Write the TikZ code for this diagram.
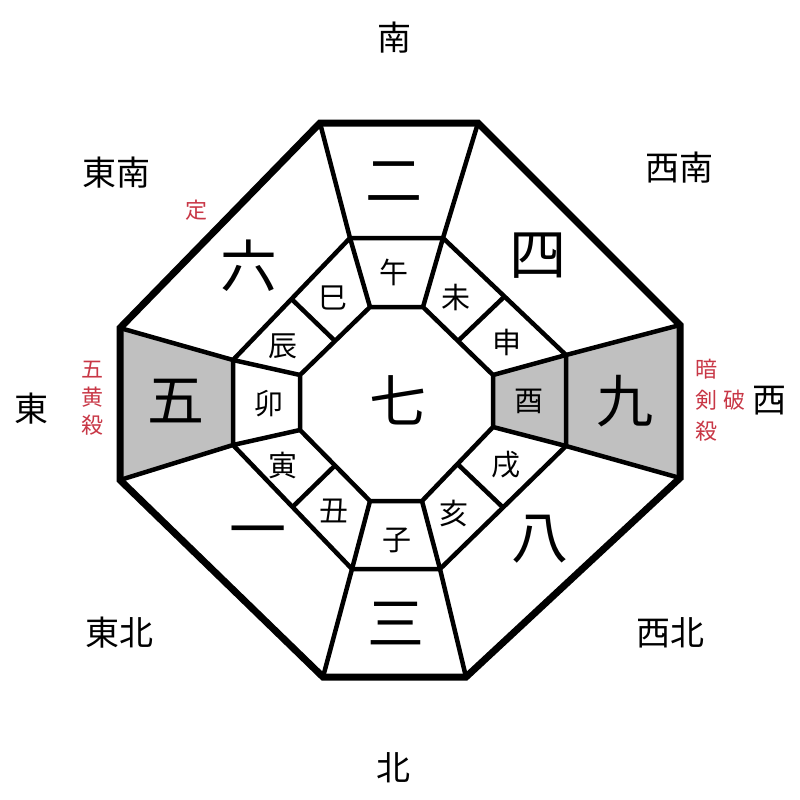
\documentclass[tikz,border=0pt]{standalone}
\usepackage{fontspec}
\newfontfamily\cjk{Noto Sans CJK JP}
\usetikzlibrary{calc}
\definecolor{grayfill}{RGB}{192,192,192}
\definecolor{redlbl}{RGB}{200,55,70}
\tikzset{
  inner/.style={line width=4.5pt, line join=miter},
  outerline/.style={line width=7pt, line join=miter},
  big/.style={font=\cjk\fontsize{57}{57}\selectfont},
  branch/.style={font=\cjk\fontsize{29}{29}\selectfont},
  dir/.style={font=\cjk\fontsize{34}{34}\selectfont},
  redtxt/.style={text=redlbl, font=\cjk\fontsize{22}{22}\selectfont, inner sep=0pt},
}
\begin{document}
\begin{tikzpicture}[x=1pt,y=-1pt]
\useasboundingbox (0,0) rectangle (800,800);
% outer octagon
\coordinate (O1) at (320,123); \coordinate (O2) at (478,123);
\coordinate (O3) at (680,325); \coordinate (O4) at (680,478);
\coordinate (O5) at (466,677); \coordinate (O6) at (323,677);
\coordinate (O7) at (120,480); \coordinate (O8) at (120,328);
% middle octagon
\coordinate (M1) at (350,238); \coordinate (M2) at (443,238);
\coordinate (M3) at (566,355); \coordinate (M4) at (566,446);
\coordinate (M5) at (440,569); \coordinate (M6) at (352,569);
\coordinate (M7) at (233,445); \coordinate (M8) at (233,360);
% inner octagon
\coordinate (I1) at (370,307); \coordinate (I2) at (423,307);
\coordinate (I3) at (493,375); \coordinate (I4) at (493,427);
\coordinate (I5) at (422,501); \coordinate (I6) at (370,501);
\coordinate (I7) at (300,430); \coordinate (I8) at (300,375);
% shaded cells
\fill[grayfill] (O8) -- (M8) -- (M7) -- (O7) -- cycle;
\fill[grayfill] (M3) -- (O3) -- (O4) -- (M4) -- cycle;
\fill[grayfill] (I3) -- (M3) -- (M4) -- (I4) -- cycle;
% interior lines
\draw[inner] (M1) -- (M2) -- (M3) -- (M4) -- (M5) -- (M6) -- (M7) -- (M8) -- cycle;
\draw[inner] (I1) -- (I2) -- (I3) -- (I4) -- (I5) -- (I6) -- (I7) -- (I8) -- cycle;
\foreach \k in {1,...,8}{
  \draw[inner] (O\k) -- (M\k);
  \draw[inner] (M\k) -- (I\k);
}
\draw[inner] ($(M2)!0.5!(M3)$) -- ($(I2)!0.5!(I3)$);
\draw[inner] ($(M4)!0.5!(M5)$) -- ($(I4)!0.5!(I5)$);
\draw[inner] ($(M6)!0.5!(M7)$) -- ($(I6)!0.5!(I7)$);
\draw[inner] ($(M8)!0.5!(M1)$) -- ($(I8)!0.5!(I1)$);
% outer boundary
\draw[outerline] (O1) -- (O2) -- (O3) -- (O4) -- (O5) -- (O6) -- (O7) -- (O8) -- cycle;
% stars
\node[big] (n2) at (394,182) {二};
\node[big] (n4) at (538,256) {四};
\node[big] (n6) at (249,266) {六};
\node[big] (n5) at (176,401) {五};
\node[big] (n9) at (625,401) {九};
\node[big] (n1) at (258,538) {一};
\node[big] (n8) at (540,539) {八};
\node[big] (n3) at (396,624) {三};
\node[big] (n7) at (398,400) {七};
% branches
\node[branch] (b1) at (394,272) {午};
\node[branch] (b2) at (456,297) {未};
\node[branch] (b3) at (507,342) {申};
\node[branch] (b4) at (529,401) {酉};
\node[branch] (b5) at (506,465) {戌};
\node[branch] (b6) at (454,513) {亥};
\node[branch] (b7) at (397,540) {子};
\node[branch] (b8) at (334,511) {丑};
\node[branch] (b9) at (283,466) {寅};
\node[branch] (b10) at (269,404) {卯};
\node[branch] (b11) at (283,346) {辰};
\node[branch] (b12) at (333,298) {巳};
% directions
\node[dir] (dS) at (394,38) {南};
\node[dir] (dSE) at (116,173) {東南};
\node[dir] (dSW) at (679,168) {西南};
\node[dir] (dE) at (31,409) {東};
\node[dir] (dW) at (769,401) {西};
\node[dir] (dNE) at (119,633) {東北};
\node[dir] (dNW) at (670,633) {西北};
\node[dir] (dN) at (393,768) {北};
% red labels
\node[redtxt] (r1) at (196,210) {定};
\node[redtxt, align=center] (r2) at (92,398) {五\\[6pt]黄\\[6pt]殺};
\node[redtxt, align=center] (r3) at (706,400) {暗\\[9pt]剣\\[9pt]殺};
\node[redtxt] (r4) at (734,400) {破};
\end{tikzpicture}
\end{document}
